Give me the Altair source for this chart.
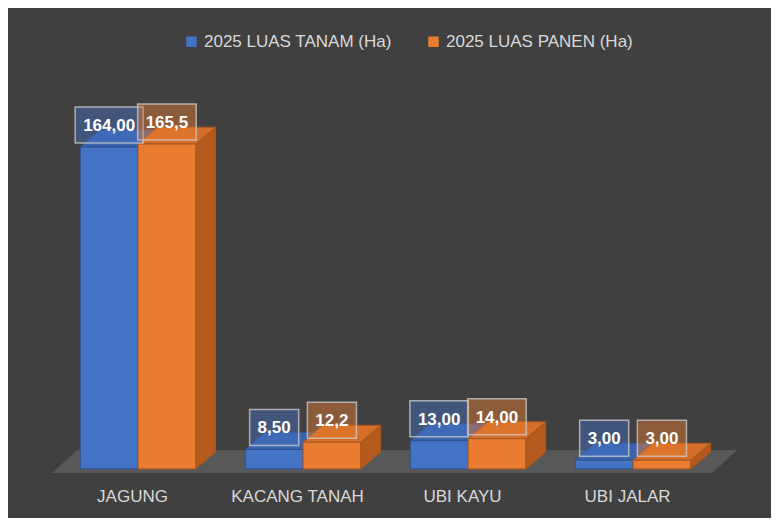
import json
import altair as alt
import pandas as pd

# ---------------- data ----------------
categories = ["JAGUNG", "KACANG TANAH", "UBI KAYU", "UBI JALAR"]
series = ["2025 LUAS TANAM (Ha)", "2025 LUAS PANEN (Ha)"]
luas_tanam = [164.00, 8.50, 13.00, 3.00]
luas_panen = [165.5, 12.2, 14.00, 3.00]
labels_tanam = ["164,00", "8,50", "13,00", "3,00"]
labels_panen = ["165,5", "12,2", "14,00", "3,00"]

# ---------------- style ----------------
FONT = "Liberation Sans"
BG = "#404040"
TEXT = "#d9d9d9"
front_colors = ["#4472C4", "#E97C30"]
top_colors = ["#3B64AE", "#D46E28"]
side_colors = ["#2F5597", "#B35A1C"]
edge_colors = ["#2F528F", "#A9561E"]

BAR_W = 0.35      # bar width in category steps
DEPTH_X = 0.12    # 3D depth, x (category steps)
DEPTH_Y = 8.7     # 3D depth, y (data units)
BASE_Y = -1.5     # bars sit slightly into the floor
PX_PER_STEP = 165

xs = alt.Scale(domain=[-0.788, 3.836], nice=False, zero=False)
ys = alt.Scale(domain=[-6.17, 204.6], nice=False, zero=False)

# ---------------- derived tables ----------------
bars = []
for j, (vals, labs) in enumerate([(luas_tanam, labels_tanam), (luas_panen, labels_panen)]):
    for i, (v, lab) in enumerate(zip(vals, labs)):
        left = i - BAR_W + j * BAR_W
        right = left + BAR_W
        center = (left + right) / 2
        ndig = sum(c.isdigit() for c in lab)
        ncom = lab.count(",")
        box_px = 17 * (0.556 * ndig + 0.278 * ncom) + 16
        half = box_px / 2 / PX_PER_STEP
        bars.append(dict(cat=categories[i], ci=i, series=series[j], sj=j, value=v,
                         label=lab, left=left, right=right, center=center,
                         bx1=center - half, bx2=center + half, base=BASE_Y))
bars = pd.DataFrame(bars)

tops, sides = [], []
for r in bars.itertuples():
    T, D = r.value, DEPTH_Y
    L, R, dx = r.left, r.right, DEPTH_X
    for x, y, y2 in [(L, T, T), (L + dx, T + D, T), (R, T + D, T), (R + dx, T + D, T + D)]:
        tops.append(dict(cat=r.cat, sj=r.sj, x=x, y=y, y2=y2))
    for x, y, y2 in [(R, T, BASE_Y), (R + dx, T + D, BASE_Y + D)]:
        sides.append(dict(cat=r.cat, sj=r.sj, x=x, y=y, y2=y2))
tops = pd.DataFrame(tops)
sides = pd.DataFrame(sides)

n = len(categories)
FL, FR, FDX = 0 - BAR_W - 0.17, (n - 1) + BAR_W + 0.13, 0.15
FY0, FY1 = -3.6, 8.2
floor = pd.DataFrame([
    dict(x=FL, y=FY0, y2=FY0),
    dict(x=FL + FDX, y=FY1, y2=FY0),
    dict(x=FR, y=FY1, y2=FY0),
    dict(x=FR + FDX, y=FY1, y2=FY1),
])

label_expr = json.dumps(categories) + "[round(datum.value)]"
x_axis = alt.Axis(values=list(range(n)), labelExpr=label_expr, title=None,
                  domain=False, ticks=False, grid=False, labelColor=TEXT,
                  labelFont=FONT, labelFontSize=17, labelPadding=10,
                  labelOffset=-6, labelFlush=False, labelOverlap=False)


def X(field):
    return alt.X(f"{field}:Q", scale=xs, axis=x_axis)


def Y(field):
    return alt.Y(f"{field}:Q", scale=ys, axis=None)


layers = []
floor_layer = alt.Chart(floor).mark_area(orient="vertical", color="#585858").encode(
    x=X("x"), y=Y("y"), y2="y2")
layers.append(floor_layer)

for j in range(2):
    side = alt.Chart(sides).transform_filter(f"datum.sj == {j}").mark_area(
        orient="vertical", color=side_colors[j], stroke=edge_colors[j], strokeWidth=1
    ).encode(x=X("x"), y=Y("y"), y2="y2", detail="cat:N")
    top = alt.Chart(tops).transform_filter(f"datum.sj == {j}").mark_area(
        orient="vertical", color=top_colors[j], stroke=edge_colors[j], strokeWidth=1
    ).encode(x=X("x"), y=Y("y"), y2="y2", detail="cat:N")
    layers += [side, top]

front = alt.Chart(bars).mark_rect(strokeWidth=1).encode(
    x=X("left"), x2="right", y=Y("value"), y2="base",
    color=alt.Color("series:N", scale=alt.Scale(domain=series, range=front_colors),
                    legend=alt.Legend(orient="none", legendX=175, legendY=-35,
                                      direction="horizontal", title=None,
                                      labelColor=TEXT, labelFont=FONT, labelFontSize=17,
                                      symbolType="square", symbolSize=110,
                                      symbolStrokeWidth=0, columnPadding=33,
                                      labelOffset=4, labelLimit=0)),
    stroke=alt.Stroke("series:N", scale=alt.Scale(domain=series, range=edge_colors),
                      legend=None),
)
layers.append(front)

boxes = alt.Chart(bars).mark_rect(yOffset=-40, y2Offset=-4, fillOpacity=0.45,
                                  stroke="#cfcfcf", strokeOpacity=0.75,
                                  strokeWidth=1.5).encode(
    x=X("bx1"), x2="bx2", y=Y("value"), y2="value",
    fill=alt.Fill("series:N", scale=alt.Scale(domain=series, range=front_colors),
                  legend=None),
)
texts = alt.Chart(bars).mark_text(dy=-21, baseline="middle", align="center",
                                  font=FONT, fontSize=17, fontWeight="bold",
                                  color="#ffffff").encode(
    x=X("center"), y=Y("value"), text="label:N")
layers += [boxes, texts]

chart = alt.layer(*layers).properties(
    width=763, height=410,
    autosize=alt.AutoSizeParams(type="none"),
    padding={"left": 0, "top": 60, "right": 0, "bottom": 40},
).configure(background=BG).configure_view(stroke=None)

chart.save("out.html", embed_options={"renderer": "svg", "actions": False})
